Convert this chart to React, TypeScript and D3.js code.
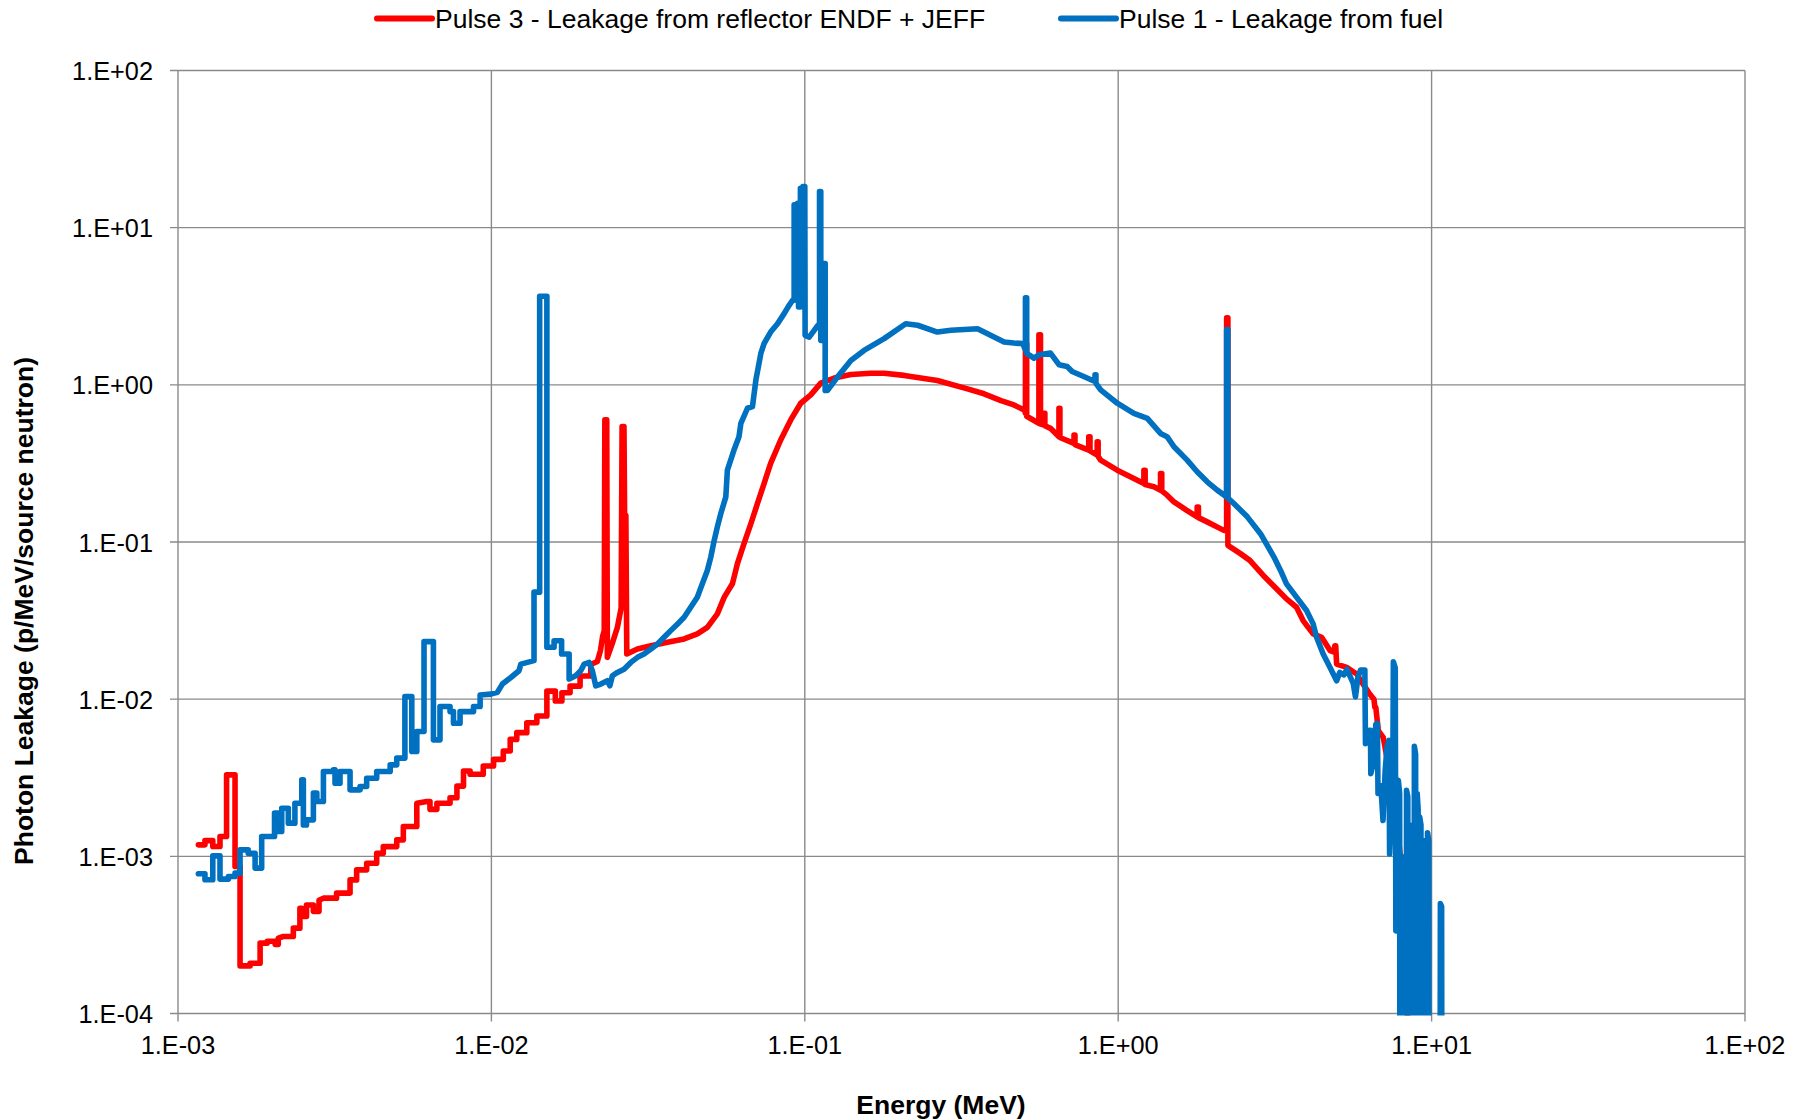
import React from 'react';
import * as d3 from 'd3';

const xTickValues = [1e-3, 1e-2, 1e-1, 1e0, 1e1, 1e2];
const xTickLabels = ['1.E-03', '1.E-02', '1.E-01', '1.E+00', '1.E+01', '1.E+02'];
const yTickValues = [1e-4, 1e-3, 1e-2, 1e-1, 1e0, 1e1, 1e2];
const yTickLabels = ['1.E-04', '1.E-03', '1.E-02', '1.E-01', '1.E+00', '1.E+01', '1.E+02'];

const seriesNames = ['Pulse 3 - Leakage from reflector ENDF + JEFF', 'Pulse 1 - Leakage from fuel'];
const seriesColors = ['#FF0000', '#0070C0'];

// points, as powers of ten: [log10(energy in MeV), log10(leakage)]
const pulse3Points: [number, number][] = [
  [-2.935, -2.927], [-2.914, -2.927], [-2.914, -2.9], [-2.889, -2.9], [-2.889, -2.937], [-2.866, -2.937],
  [-2.866, -2.874], [-2.845, -2.874], [-2.845, -2.482], [-2.818, -2.482], [-2.818, -3.065], [-2.802, -3.065],
  [-2.802, -3.697], [-2.77, -3.697], [-2.77, -3.68], [-2.738, -3.68], [-2.738, -3.552], [-2.715, -3.552],
  [-2.715, -3.54], [-2.69, -3.54], [-2.69, -3.56], [-2.68, -3.56], [-2.68, -3.52], [-2.664, -3.51],
  [-2.632, -3.51], [-2.632, -3.457], [-2.611, -3.457], [-2.611, -3.33], [-2.605, -3.33], [-2.605, -3.383],
  [-2.59, -3.383], [-2.59, -3.31], [-2.568, -3.31], [-2.568, -3.35], [-2.55, -3.35], [-2.55, -3.28],
  [-2.536, -3.266], [-2.494, -3.266], [-2.494, -3.234], [-2.451, -3.234], [-2.451, -3.15], [-2.43, -3.15],
  [-2.43, -3.086], [-2.398, -3.086], [-2.398, -3.044], [-2.366, -3.044], [-2.366, -2.98], [-2.345, -2.98],
  [-2.345, -2.938], [-2.302, -2.938], [-2.302, -2.895], [-2.281, -2.895], [-2.281, -2.81], [-2.238, -2.81],
  [-2.238, -2.662], [-2.206, -2.651], [-2.196, -2.651], [-2.196, -2.701], [-2.174, -2.701], [-2.174, -2.662],
  [-2.132, -2.662], [-2.132, -2.627], [-2.11, -2.627], [-2.11, -2.553], [-2.089, -2.553], [-2.089, -2.457],
  [-2.068, -2.457], [-2.068, -2.478], [-2.026, -2.478], [-2.026, -2.425], [-1.993, -2.425], [-1.993, -2.383],
  [-1.962, -2.383], [-1.962, -2.33], [-1.94, -2.33], [-1.94, -2.256], [-1.919, -2.256], [-1.919, -2.213],
  [-1.887, -2.213], [-1.887, -2.15], [-1.855, -2.15], [-1.855, -2.107], [-1.823, -2.107], [-1.823, -1.949],
  [-1.796, -1.949], [-1.796, -2.012], [-1.775, -2.012], [-1.775, -1.959], [-1.749, -1.959], [-1.749, -1.917],
  [-1.717, -1.917], [-1.717, -1.853], [-1.683, -1.853], [-1.683, -1.78], [-1.662, -1.76], [-1.652, -1.69],
  [-1.645, -1.6], [-1.64, -1.564], [-1.638, -0.223], [-1.632, -0.223], [-1.63, -1.734], [-1.615, -1.65],
  [-1.598, -1.543], [-1.586, -1.42], [-1.583, -0.266], [-1.577, -0.266], [-1.575, -0.819], [-1.571, -0.83],
  [-1.568, -1.713], [-1.534, -1.681], [-1.491, -1.66], [-1.438, -1.638], [-1.385, -1.617], [-1.343, -1.585],
  [-1.311, -1.543], [-1.279, -1.457], [-1.257, -1.351], [-1.231, -1.266], [-1.215, -1.138], [-1.194, -1.011],
  [-1.172, -0.883], [-1.151, -0.755], [-1.13, -0.628], [-1.109, -0.5], [-1.077, -0.351], [-1.045, -0.223],
  [-1.013, -0.117], [-0.981, -0.064], [-0.949, 0.011], [-0.906, 0.043], [-0.853, 0.066], [-0.789, 0.074],
  [-0.747, 0.074], [-0.683, 0.06], [-0.577, 0.028], [-0.481, -0.026], [-0.428, -0.057], [-0.374, -0.1],
  [-0.333, -0.128], [-0.3, -0.16], [-0.296, -0.18], [-0.296, 0.26], [-0.292, 0.26], [-0.292, -0.2],
  [-0.27, -0.225], [-0.253, -0.245], [-0.253, 0.319], [-0.248, 0.319], [-0.248, -0.25], [-0.237, -0.255],
  [-0.237, -0.181], [-0.234, -0.181], [-0.234, -0.26], [-0.216, -0.277], [-0.189, -0.33], [-0.189, -0.149],
  [-0.186, -0.149], [-0.186, -0.335], [-0.141, -0.372], [-0.141, -0.319], [-0.138, -0.319], [-0.138, -0.38],
  [-0.094, -0.415], [-0.094, -0.33], [-0.09, -0.33], [-0.09, -0.42], [-0.067, -0.447], [-0.067, -0.362],
  [-0.064, -0.362], [-0.064, -0.455], [-0.056, -0.479], [-0.003, -0.543], [0.05, -0.596], [0.082, -0.628],
  [0.082, -0.543], [0.086, -0.543], [0.086, -0.635], [0.114, -0.649], [0.135, -0.67], [0.135, -0.564],
  [0.139, -0.564], [0.139, -0.675], [0.156, -0.702], [0.178, -0.745], [0.22, -0.8], [0.252, -0.84],
  [0.252, -0.777], [0.256, -0.777], [0.256, -0.845], [0.284, -0.872], [0.337, -0.926], [0.346, -0.93],
  [0.346, 0.426], [0.35, 0.426], [0.35, -1.021], [0.39, -1.074], [0.42, -1.117], [0.463, -1.213],
  [0.505, -1.298], [0.537, -1.362], [0.569, -1.415], [0.59, -1.5], [0.622, -1.585], [0.649, -1.606],
  [0.676, -1.691], [0.689, -1.7], [0.691, -1.66], [0.694, -1.66], [0.697, -1.777], [0.729, -1.798],
  [0.761, -1.84], [0.78, -1.9], [0.8, -1.96], [0.816, -2.0], [0.819, -2.053], [0.822, -2.053],
  [0.83, -2.2], [0.846, -2.245], [0.86, -2.4], [0.875, -2.55], [0.89, -2.8], [0.905, -3.1],
  [0.911, -3.19], [0.915, -3.34], [0.92, -3.5], [0.925, -4.3],
];

const pulse1Points: [number, number][] = [
  [-2.935, -3.111], [-2.914, -3.111], [-2.914, -3.149], [-2.889, -3.149], [-2.889, -2.997], [-2.866, -2.997],
  [-2.866, -3.145], [-2.839, -3.145], [-2.839, -3.128], [-2.818, -3.128], [-2.818, -3.107], [-2.802, -3.107],
  [-2.802, -2.959], [-2.776, -2.959], [-2.776, -2.98], [-2.754, -2.98], [-2.754, -3.075], [-2.733, -3.075],
  [-2.733, -2.874], [-2.692, -2.874], [-2.692, -2.725], [-2.68, -2.725], [-2.68, -2.842], [-2.669, -2.842],
  [-2.669, -2.694], [-2.648, -2.694], [-2.648, -2.789], [-2.627, -2.789], [-2.627, -2.662], [-2.605, -2.662],
  [-2.605, -2.513], [-2.6, -2.513], [-2.6, -2.8], [-2.59, -2.8], [-2.59, -2.768], [-2.568, -2.768],
  [-2.568, -2.598], [-2.557, -2.598], [-2.557, -2.651], [-2.536, -2.651], [-2.536, -2.46], [-2.504, -2.46],
  [-2.504, -2.45], [-2.499, -2.45], [-2.499, -2.535], [-2.483, -2.535], [-2.483, -2.46], [-2.451, -2.46],
  [-2.451, -2.577], [-2.419, -2.577], [-2.419, -2.556], [-2.398, -2.556], [-2.398, -2.503], [-2.366, -2.503],
  [-2.366, -2.46], [-2.323, -2.46], [-2.323, -2.418], [-2.302, -2.418], [-2.302, -2.375], [-2.276, -2.375],
  [-2.276, -1.983], [-2.254, -1.983], [-2.254, -2.333], [-2.238, -2.333], [-2.238, -2.206], [-2.215, -2.206],
  [-2.215, -1.634], [-2.185, -1.634], [-2.185, -2.259], [-2.164, -2.259], [-2.164, -2.047], [-2.132, -2.047],
  [-2.132, -2.079], [-2.121, -2.079], [-2.121, -2.153], [-2.1, -2.153], [-2.1, -2.079], [-2.057, -2.079],
  [-2.057, -2.047], [-2.036, -2.047], [-2.036, -1.973], [-2.002, -1.968], [-1.981, -1.957], [-1.965, -1.904],
  [-1.938, -1.862], [-1.912, -1.819], [-1.906, -1.777], [-1.885, -1.766], [-1.864, -1.755], [-1.864, -1.319],
  [-1.846, -1.319], [-1.846, 0.564], [-1.823, 0.564], [-1.823, -1.67], [-1.8, -1.67], [-1.8, -1.628],
  [-1.776, -1.628], [-1.776, -1.713], [-1.752, -1.713], [-1.752, -1.872], [-1.731, -1.851], [-1.715, -1.819],
  [-1.704, -1.777], [-1.688, -1.766], [-1.678, -1.819], [-1.667, -1.915], [-1.651, -1.904], [-1.63, -1.883],
  [-1.622, -1.915], [-1.614, -1.851], [-1.598, -1.83], [-1.577, -1.809], [-1.555, -1.766], [-1.534, -1.734],
  [-1.513, -1.713], [-1.491, -1.681], [-1.47, -1.649], [-1.449, -1.606], [-1.428, -1.564], [-1.406, -1.521],
  [-1.385, -1.479], [-1.364, -1.415], [-1.343, -1.351], [-1.327, -1.266], [-1.311, -1.181], [-1.3, -1.096],
  [-1.289, -0.989], [-1.279, -0.904], [-1.268, -0.819], [-1.252, -0.713], [-1.247, -0.543], [-1.226, -0.415],
  [-1.21, -0.33], [-1.204, -0.245], [-1.183, -0.149], [-1.167, -0.138], [-1.156, 0.032], [-1.146, 0.138],
  [-1.14, 0.202], [-1.13, 0.262], [-1.109, 0.336], [-1.087, 0.389], [-1.066, 0.453], [-1.05, 0.506],
  [-1.039, 0.538], [-1.034, 0.538], [-1.034, 1.145], [-1.029, 1.145], [-1.029, 0.54], [-1.023, 0.54],
  [-1.023, 1.155], [-1.02, 1.155], [-1.02, 0.496], [-1.014, 0.496], [-1.014, 1.251], [-1.01, 1.251],
  [-1.01, 0.517], [-1.006, 0.517], [-1.006, 1.262], [-1.0, 1.262], [-0.999, 0.315], [-0.986, 0.304],
  [-0.97, 0.347], [-0.958, 0.379], [-0.953, 0.379], [-0.953, 1.23], [-0.949, 1.23], [-0.949, 0.283],
  [-0.942, 0.283], [-0.942, 0.772], [-0.935, 0.772], [-0.935, -0.036], [-0.928, -0.036], [-0.896, 0.049],
  [-0.853, 0.155], [-0.811, 0.219], [-0.747, 0.294], [-0.678, 0.389], [-0.64, 0.379], [-0.577, 0.336],
  [-0.534, 0.347], [-0.449, 0.357], [-0.428, 0.336], [-0.364, 0.272], [-0.333, 0.266], [-0.305, 0.262],
  [-0.296, 0.223], [-0.296, 0.553], [-0.292, 0.553], [-0.292, 0.2], [-0.269, 0.17], [-0.253, 0.191],
  [-0.216, 0.202], [-0.189, 0.128], [-0.163, 0.117], [-0.147, 0.085], [-0.11, 0.053], [-0.074, 0.021],
  [-0.074, 0.064], [-0.071, 0.064], [-0.071, 0.01], [-0.056, -0.032], [-0.003, -0.117], [0.05, -0.181],
  [0.093, -0.213], [0.135, -0.309], [0.156, -0.33], [0.178, -0.394], [0.22, -0.479], [0.252, -0.553],
  [0.284, -0.617], [0.316, -0.67], [0.346, -0.713], [0.346, 0.351], [0.35, 0.351], [0.35, -0.72],
  [0.369, -0.755], [0.412, -0.84], [0.454, -0.947], [0.497, -1.096], [0.518, -1.181], [0.537, -1.266],
  [0.569, -1.351], [0.601, -1.436], [0.622, -1.521], [0.633, -1.606], [0.654, -1.713], [0.676, -1.798],
  [0.697, -1.883], [0.707, -1.83], [0.72, -1.845], [0.73, -1.81], [0.741, -1.86], [0.75, -1.9],
  [0.757, -1.985], [0.765, -1.86], [0.773, -1.815], [0.787, -1.815], [0.789, -2.283], [0.797, -2.2],
  [0.805, -2.198], [0.806, -2.474], [0.815, -2.4], [0.822, -2.16], [0.827, -2.155], [0.829, -2.6],
  [0.838, -2.55], [0.845, -2.772], [0.852, -2.45], [0.858, -2.3], [0.864, -2.262], [0.866, -2.985],
  [0.872, -2.7], [0.876, -2.6], [0.878, -1.762], [0.884, -1.8], [0.886, -3.474], [0.892, -3.4],
  [0.894, -2.517], [0.898, -2.6], [0.899, -5], [0.903, -5], [0.904, -3.0], [0.907, -3.2],
  [0.908, -5], [0.912, -5], [0.913, -3.3], [0.915, -3.35], [0.916, -5], [0.919, -5],
  [0.92, -2.58], [0.924, -2.62], [0.925, -5], [0.928, -5], [0.929, -2.8], [0.932, -2.9],
  [0.933, -5], [0.936, -5], [0.937, -3.0], [0.94, -3.05], [0.941, -5], [0.944, -5],
  [0.945, -2.3], [0.949, -2.35], [0.95, -5], [0.953, -5], [0.954, -2.6], [0.957, -2.7],
  [0.958, -5], [0.961, -5], [0.962, -2.75], [0.966, -2.8], [0.967, -5], [0.97, -5],
  [0.971, -3.0], [0.974, -3.1], [0.975, -5], [0.978, -5], [0.979, -2.9], [0.982, -2.95],
  [0.983, -5], [0.986, -5], [0.987, -2.85], [0.991, -2.9], [0.992, -5], [1.027, -5],
  [1.028, -3.3], [1.032, -3.32], [1.033, -5],
];

const W = 1806, H = 1120;
const plot = { left: 178, right: 1745, top: 70.5, bottom: 1013.5 };
const gridColor = '#8A8A8A';
const font = '"Liberation Sans", Arial, sans-serif';

export default function App() {
  const x = d3.scaleLog().domain([1e-3, 1e2]).range([plot.left, plot.right]);
  const y = d3.scaleLog().domain([1e-4, 1e2]).range([plot.bottom, plot.top]);

  const line = d3.line<[number, number]>()
    .x(d => x(Math.pow(10, d[0])))
    .y(d => y(Math.pow(10, d[1])));

  const series = [pulse3Points, pulse1Points];

  return (
    <svg width={W} height={H} style={{ position: 'absolute', left: 0, top: 0, display: 'block', background: '#fff' }}>
      <defs>
        <clipPath id="plot-clip">
          <rect x={plot.left} y={plot.top - 3} width={plot.right - plot.left} height={plot.bottom - plot.top + 5} />
        </clipPath>
      </defs>

      {/* grid */}
      {yTickValues.map(v => (
        <line key={'gy' + v} x1={plot.left - 8} x2={plot.right} y1={y(v)} y2={y(v)} stroke={gridColor} strokeWidth={1.4} />
      ))}
      {xTickValues.map(v => (
        <line key={'gx' + v} x1={x(v)} x2={x(v)} y1={plot.top} y2={plot.bottom + 8} stroke={gridColor} strokeWidth={1.4} />
      ))}

      {/* data */}
      <g clipPath="url(#plot-clip)">
        {series.map((pts, i) => (
          <path key={i} d={line(pts) || ''} fill="none" stroke={seriesColors[i]} strokeWidth={5.6}
            strokeLinejoin="round" strokeLinecap="round" />
        ))}
      </g>

      {/* tick labels */}
      {yTickValues.map((v, i) => (
        <text key={'ly' + v} x={153} y={y(v) + 9.5} textAnchor="end" fontFamily={font} fontSize={25.3} fill="#000">
          {yTickLabels[i]}
        </text>
      ))}
      {xTickValues.map((v, i) => (
        <text key={'lx' + v} x={x(v)} y={plot.bottom + 40.5} textAnchor="middle" fontFamily={font} fontSize={25.3} fill="#000">
          {xTickLabels[i]}
        </text>
      ))}

      {/* axis titles */}
      <text x={941} y={1114} textAnchor="middle" fontFamily={font} fontSize={26.5} fontWeight="bold">Energy (MeV)</text>
      <text transform="translate(33,611) rotate(-90)" textAnchor="middle" fontFamily={font} fontSize={26.5} fontWeight="bold">
        Photon Leakage (p/MeV/source neutron)
      </text>

      {/* legend */}
      {[377, 1061].map((lx, i) => (
        <g key={'lg' + i}>
          <line x1={lx} x2={lx + 55} y1={18.5} y2={18.5} stroke={seriesColors[i]} strokeWidth={6} strokeLinecap="round" />
          <text x={lx + 58} y={28} fontFamily={font} fontSize={26.5} fill="#000">{seriesNames[i]}</text>
        </g>
      ))}
    </svg>
  );
}
